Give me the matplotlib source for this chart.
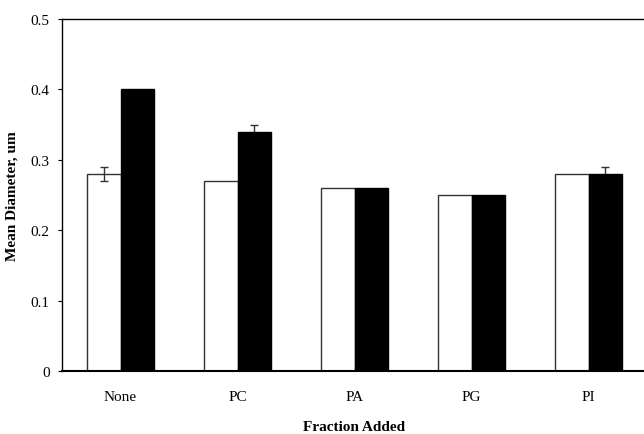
import numpy as np
import matplotlib.pyplot as plt

plt.rcParams['font.family'] = ['Liberation Serif', 'DejaVu Serif']

fractions = ['None', 'PC', 'PA', 'PG', 'PI']
open_vals = [0.28, 0.27, 0.26, 0.25, 0.28]
open_err = [0.01, 0, 0, 0, 0]
filled_vals = [0.40, 0.34, 0.26, 0.25, 0.28]
filled_err = [0, 0.01, 0, 0, 0.01]

x = np.arange(len(fractions))
w = 0.285

fig = plt.figure(figsize=(6.44, 4.35), dpi=100)
ax = fig.add_axes([0.0963, 0.1448, 1.0047 - 0.0963, 0.954 - 0.1448])

ax.bar(x - w / 2, open_vals, w, color='white', edgecolor='#333333', linewidth=1.0, zorder=2)
ax.bar(x + w / 2, filled_vals, w, color='black', edgecolor='black', linewidth=1.0, zorder=2)

# open bar error drawn on top, filled bar error hidden behind the bar
for xi, v, e in zip(x - w / 2, open_vals, open_err):
    if e:
        ax.errorbar(xi, v, yerr=e, fmt='none', ecolor='#333333', elinewidth=1.0, capsize=3, zorder=3)
for xi, v, e in zip(x + w / 2, filled_vals, filled_err):
    if e:
        ax.errorbar(xi, v, yerr=e, fmt='none', ecolor='#333333', elinewidth=1.0, capsize=3, zorder=1)

ax.set_xlim(-0.5, 4.5)
ax.set_ylim(0, 0.5)
ax.set_yticks([0, 0.1, 0.2, 0.3, 0.4, 0.5])
ax.set_yticklabels(['0', '0.1', '0.2', '0.3', '0.4', '0.5'])
ax.set_xticks(x)
ax.set_xticklabels(fractions)
ax.tick_params(axis='x', length=0, pad=14, labelsize=11)
ax.tick_params(axis='y', length=3, direction='out', pad=6, labelsize=11)

ax.spines['right'].set_visible(False)
ax.spines['left'].set_linewidth(1.0)
ax.spines['top'].set_linewidth(1.0)
ax.spines['bottom'].set_linewidth(1.5)

ax.set_ylabel('Mean Diameter, um', fontweight='bold', fontsize=11, labelpad=9)
ax.set_xlabel('Fraction Added', fontweight='bold', fontsize=11, labelpad=12)

fig.savefig('out.png', dpi=100)
